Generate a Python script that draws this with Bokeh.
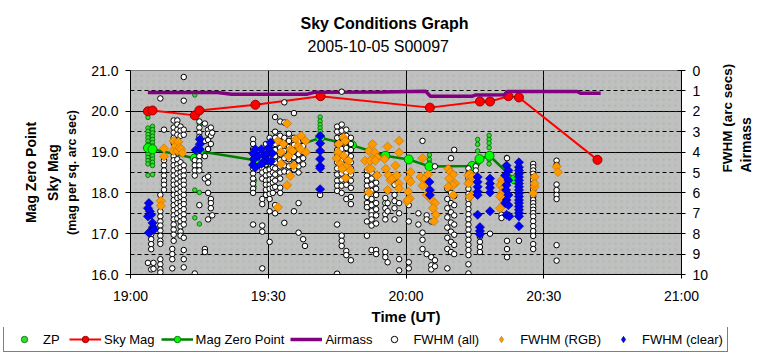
import math
from bokeh.plotting import figure
from bokeh.models import (Range1d, LinearAxis, FixedTicker, Grid, Legend, LegendItem,
                          PrintfTickFormatter, BoxAnnotation, Title)
from bokeh.embed import file_html
from bokeh.resources import INLINE

# ---------------- data (time in minutes after 19:00 UT) ----------------
time_ticks = [0, 30, 60, 90, 120]
time_labels = ["19:00", "19:30", "20:00", "20:30", "21:00"]

sky_mag_t = [3.8, 4.8, 14.0, 15.0, 27.2, 41.4, 65.2, 76.1, 78.3, 82.3, 84.6, 101.7]
sky_mag_v = [20.00, 20.02, 19.90, 20.02, 20.16, 20.37, 20.09, 20.24, 20.24, 20.37, 20.34, 18.81]

magzp_t = [3.8, 4.8, 14.0, 15.0, 27.2, 41.3, 48.2, 55.5, 60.6, 65.1, 74.4, 76.0, 78.2, 83.6]
magzp_v = [19.10, 19.07, 18.85, 19.02, 18.80, 19.35, 19.17, 18.91, 18.82, 18.65, 18.66, 18.83, 18.91, 18.33]

airmass_t = [3.8, 19.0, 22.0, 38.5, 40.0, 55.0, 64.3, 65.3, 74.5, 75.2, 81.4, 82.0, 97.3, 98.0, 102.4]
airmass_v = [1.08, 1.08, 1.16, 1.16, 1.07, 1.05, 1.02, 1.26, 1.26, 1.20, 1.19, 1.03, 1.03, 1.12, 1.12]

zp_t = ([3.8] * 14 + [4.8] * 13 + [14.0, 15.0, 14.0, 14.0, 15.0, 14.0, 15.0]
        + [26.9, 29.6, 29.6, 29.3, 29.8, 27.0] + [41.3] * 6 + [65.1] * 4
        + [75.6] * 5 + [78.1] * 7 + [81.9, 81.9])
zp_v = ([19.85, 19.59, 19.51, 19.43, 19.35, 19.27, 19.19, 19.11, 19.03, 18.95, 18.87, 18.79, 18.71, 18.43]
        + [19.63, 19.55, 19.47, 19.39, 19.31, 19.23, 19.15, 18.99, 18.91, 18.83, 18.75, 18.67, 18.45]
        + [20.40, 19.69, 18.43, 18.07, 18.01, 17.39, 17.24]
        + [18.15, 18.67, 18.51, 18.39, 18.23, 18.30]
        + [19.86, 19.76, 19.67, 19.59, 19.51, 19.43]
        + [18.93, 18.82, 18.73, 18.63]
        + [19.31, 19.19, 19.03, 18.83, 18.71]
        + [19.41, 19.31, 19.22, 19.11, 18.91, 18.82, 18.71]
        + [18.87, 18.63])

fwhm_all_times = [3.8, 4.5, 5.0, 6.5, 7.3, 9.1, 9.4, 10.2, 10.9, 11.6, 14.0, 15.0, 16.2, 16.9, 17.5,
                  17.8, 26.7, 28.7, 29.5, 30.3, 31.0, 31.5, 32.6, 33.5, 34.5, 35.6, 36.6, 37.6, 38.0,
                  41.3, 45.0, 46.0, 47.0, 48.0, 51.5, 52.5, 53.5, 55.5, 56.0, 57.5, 58.5, 60.6, 62.7,
                  63.6, 64.5, 65.5, 66.3, 69.0, 69.8, 70.5, 73.6, 75.2, 76.1, 78.3, 80.8, 82.0, 84.6,
                  87.7, 92.8]
fwhm_all_values = [
    [9.43],
    [8.03, 8.27, 8.51, 8.76, 9.75],
    [9.43, 9.72],
    [1.37, 6.1, 6.9, 7.15, 7.4, 7.6, 7.85, 8.1, 8.35, 8.5, 9.25, 9.5, 9.75, 9.9],
    [2.9, 4.4, 4.65, 4.9, 5.15, 5.4, 5.6, 5.85],
    [8.75, 9.0, 9.25, 9.7],
    [2.45, 2.8, 3.05, 3.3, 3.55, 4.2, 4.4, 4.65, 4.9, 5.15, 5.4, 5.6, 5.85, 6.1, 6.35, 6.6, 6.85, 7.1, 7.3, 7.55, 7.8, 8.05, 8.35],
    [2.45, 2.65, 2.9, 3.15, 4.35, 4.6, 4.8, 5.05, 5.3, 5.55, 5.8, 6.05, 6.25, 6.5, 6.75, 7.0, 7.25],
    [2.75, 2.95, 3.2, 4.5, 4.75, 5.0, 5.2, 5.45, 5.7, 5.95, 6.2, 6.45, 6.65, 6.9, 7.15, 7.4, 7.65, 7.9, 8.1],
    [0.32, 1.48, 2.9, 3.15, 4.65, 4.9, 5.15, 5.4, 5.6, 5.85, 6.1, 6.35, 6.55, 6.8, 7.05, 7.3, 7.55, 8.2, 8.8, 9.25, 9.65],
    [4.4, 4.65, 4.9, 5.15, 9.95],
    [2.5, 2.8, 3.05, 3.25, 4.2, 4.45, 4.65, 4.9, 6.6],
    [2.6, 3.45, 4.2, 5.3, 8.75, 8.9],
    [2.9, 3.1, 3.4, 3.85, 5.2, 5.5, 6.0, 7.3],
    [2.8, 3.2, 3.6, 6.3, 6.5, 6.75],
    [3.05, 7.1],
    [3.37, 3.6, 3.85, 4.1, 4.35, 4.6, 4.8, 5.05, 5.3, 5.55, 5.8, 6.0, 7.55],
    [4.3, 4.55, 4.8, 5.0, 5.3, 6.3, 6.55, 7.6, 7.9, 9.7],
    [3.6, 4.6, 4.9, 5.15, 5.4, 5.6, 5.85, 6.1],
    [3.3, 4.85, 5.1, 5.35, 5.6, 5.8, 6.05, 6.3, 6.9, 8.4],
    [3.9, 4.2, 4.75, 5.0, 5.3, 5.5, 5.75, 6.0],
    [2.28, 3.0, 3.3, 3.6, 3.9, 4.2, 4.5, 4.8, 5.1, 5.4, 5.7, 6.6, 7.0],
    [2.5, 3.2, 3.5, 3.8, 4.1, 4.4, 4.7, 5.0, 5.3, 5.75, 6.0],
    [1.56, 2.55, 3.3, 3.6, 3.95, 4.3, 4.65, 4.95, 7.47],
    [3.1, 3.45, 3.75, 4.05, 4.35, 4.7, 5.0],
    [2.09, 3.3, 3.65, 3.95, 4.25, 4.55, 4.85, 6.9],
    [3.5, 3.8, 4.1, 4.4, 4.7, 5.0, 6.5, 7.95],
    [3.4, 3.7, 4.0, 4.3, 4.6, 8.27],
    [8.6],
    [6.1],
    [2.75, 3.0, 3.3, 3.6, 3.9, 4.2, 4.5, 4.8, 5.1, 5.4, 5.65, 5.9, 7.55, 9.96],
    [1.04, 2.65, 2.95, 3.25, 3.55, 3.85, 4.15, 4.45, 4.75, 5.05, 5.35, 5.65, 6.0, 8.1, 8.35, 8.6],
    [2.9, 3.2, 3.5, 3.8, 4.1, 4.4, 4.7, 5.0, 5.3, 5.6, 6.3, 8.85, 9.05],
    [3.3, 3.6, 3.9, 4.2, 4.5, 4.8, 5.1, 5.4, 5.75, 6.2, 6.55, 9.3],
    [4.9, 5.15, 5.4, 5.65, 5.9, 6.2, 6.5, 6.7, 7.4, 8.1],
    [5.0, 5.3, 5.6, 5.9, 6.3, 6.6, 6.9, 7.1, 7.3, 7.6, 8.8],
    [5.5, 5.8, 6.1, 6.5, 6.8, 7.1, 7.5, 8.8, 9.0],
    [6.25, 6.5, 6.75, 7.05, 7.3, 8.9, 9.15],
    [5.9, 6.5, 6.9, 9.4],
    [5.3, 5.6, 6.1, 6.4, 6.75, 7.3],
    [6.5, 7.0, 8.3, 9.25, 9.8],
    [6.6, 7.4, 9.4, 9.7],
    [7.0, 7.55],
    [3.45, 7.95, 8.3, 8.75],
    [7.1, 7.3, 9.0],
    [7.4, 9.15, 9.55, 9.75],
    [4.7, 9.3, 9.6],
    [5.8, 6.3, 6.75, 7.2, 7.7, 8.2, 8.75, 9.7],
    [4.3, 6.0, 6.5, 6.95, 7.45, 7.9, 8.4, 8.9],
    [3.89, 6.15, 6.6, 7.1, 7.55, 8.05, 8.55, 9.0],
    [4.8, 5.05, 5.3, 5.55, 5.8, 6.05, 6.3, 6.55, 6.8, 7.05, 7.3, 7.55, 7.8, 8.05, 8.3, 8.55, 8.8, 9.05, 9.5, 9.95],
    [4.7, 4.9],
    [8.15, 8.4, 8.65, 8.9],
    [8.0],
    [5.46, 7.07, 7.23],
    [4.3, 8.35, 8.75, 9.15],
    [8.35],
    [4.58, 4.74, 4.9, 5.06, 5.22, 5.38, 5.54, 5.7, 5.86, 6.02, 6.18, 6.35, 6.5, 6.67, 6.83, 6.99, 7.15, 7.39, 7.63, 7.87, 8.11, 8.51, 8.75],
    [4.42, 4.63, 5.59, 5.86, 6.1, 6.3, 8.56, 9.32],
]

rgb_t = ([6.6, 6.6, 7.3, 7.3]
         + [9.3, 9.4, 9.8, 10.2, 10.4, 10.7, 11.0, 11.3]
         + [34.1, 32.1, 33.3, 32.8, 34.8, 35.3, 36.0, 37.2, 38.1, 38.2, 36.5, 34.4, 35.5, 32.8, 34.8, 34.1, 32.1, 37.0]
         + [46.4, 45.3, 46.8, 45.2, 46.4, 45.7, 47.1, 46.1, 47.9, 47.5, 46.9, 44.9]
         + [52.7, 51.9, 53.2, 53.7, 52.6, 51.1, 52.2, 53.3, 51.9, 53.7, 52.4, 51.9]
         + [56.0, 55.3, 55.6, 56.2, 56.6, 57.0, 58.0, 58.4, 57.7, 58.5, 58.5, 56.0, 58.5, 60.2]
         + [61.0, 60.5, 61.0, 60.5, 60.8, 60.4]
         + [63.6, 63.2, 64.1, 64.6, 63.6, 64.5, 65.2, 65.6, 66.3, 65.9, 66.5, 66.1, 64.8]
         + [69.2, 69.7, 70.3, 69.4, 70.7, 70.2, 69.2, 70.3]
         + [73.9, 73.6, 74.3, 73.9, 73.6, 74.3, 73.9]
         + [80.8, 80.5, 81.2, 80.8, 80.5, 81.2, 80.5]
         + [88.0, 88.0, 87.7, 88.0]
         + [92.8, 93.1])
rgb_v = ([6.39, 6.63, 3.82, 4.21]
         + [3.94, 3.45, 3.70, 3.94, 3.50, 3.78, 3.86, 4.05]
         + [2.60, 3.45, 3.60, 4.00, 3.86, 3.94, 3.37, 3.20, 3.45, 4.00, 3.70, 4.20, 4.66, 4.58, 5.17, 5.62, 6.70, 3.86]
         + [3.29, 3.61, 3.45, 4.00, 4.18, 4.58, 4.66, 4.82, 4.90, 4.42, 5.27, 4.30]
         + [3.61, 3.94, 4.02, 4.26, 4.34, 4.42, 4.42, 4.42, 4.82, 5.14, 4.82, 5.98]
         + [3.73, 4.34, 4.82, 5.14, 5.38, 5.30, 5.14, 5.54, 4.66, 4.02, 3.45, 5.86, 5.78, 6.42]
         + [4.98, 5.30, 5.46, 5.94, 6.27, 6.35]
         + [4.30, 5.22, 5.30, 5.54, 5.65, 6.10, 5.94, 6.35, 6.50, 6.75, 7.07, 7.39, 5.10]
         + [4.82, 4.98, 5.10, 5.30, 5.54, 5.62, 5.70, 6.10]
         + [5.06, 5.14, 5.22, 5.46, 5.54, 6.10, 6.18]
         + [5.38, 5.62, 5.78, 6.02, 6.18, 6.35, 6.75]
         + [5.22, 5.70, 6.02, 5.54]
         + [4.71, 4.98])

clear_t = ([4.0, 3.8, 4.2, 3.8, 4.5, 4.8, 4.9, 4.5, 4.0, 5.1]
           + [15.1, 15.1, 14.2, 15.1]
           + [26.7, 27.2, 26.9, 26.7, 27.2, 28.5, 29.0, 29.8, 30.1, 30.5, 30.9, 29.8, 29.0, 30.6, 28.5, 27.8]
           + [41.3] * 7
           + [65.1, 65.2, 65.2]
           + [75.6] * 6 + [76.1] * 3 + [78.3] * 5
           + [81.9, 82.3, 81.6, 82.3, 81.9, 81.8, 82.3, 81.9, 81.6, 82.3, 81.9, 82.5]
           + [84.6] * 18)
clear_v = ([6.50, 6.75, 6.90, 7.15, 7.07, 7.47, 7.68, 7.87, 7.95, 7.80]
           + [3.37, 3.61, 3.90, 3.86]
           + [4.06, 3.86, 4.34, 4.63, 4.75, 3.86, 4.18, 4.06, 3.78, 3.53, 4.06, 4.42, 4.50, 4.45, 4.58, 4.20]
           + [3.21, 3.57, 3.94, 4.34, 4.69, 4.79, 5.82]
           + [5.46, 5.86, 6.10]
           + [5.22, 5.46, 5.70, 5.94, 6.10, 7.07, 7.68, 7.87, 8.03]
           + [5.30, 5.54, 5.75, 5.98, 6.90]
           + [4.66, 4.90, 5.14, 5.38, 5.62, 5.86, 6.10, 6.35, 6.50, 6.60, 7.07, 7.15]
           + [4.50, 4.74, 4.90, 5.06, 5.22, 5.38, 5.54, 5.70, 5.86, 6.02, 6.18, 6.35, 6.50, 6.67, 6.83, 6.99, 7.15, 7.63])

legend_labels = ["ZP", "Sky Mag", "Mag Zero Point", "Airmass", "FWHM (all)", "FWHM (RGB)", "FWHM (clear)"]

# flatten FWHM (all) columns
fa_t, fa_v = [], []
for t, vals in zip(fwhm_all_times, fwhm_all_values):
    for v in vals:
        fa_t.append(t)
        fa_v.append(v)

FONT = "Liberation Sans"

# ---------------- styles ----------------
ZP_STYLE = dict(marker="circle", size=4.5, fill_color="#33dd33", line_color="#006400", line_width=0.8)
SKY_LINE = dict(line_color="#ff0000", line_width=2)
SKY_MARK = dict(marker="circle", size=9, fill_color="#ff0000", line_color="#990000", line_width=1)
MZP_LINE = dict(line_color="#008000", line_width=2.5)
MZP_MARK = dict(marker="circle", size=9, fill_color="#00ff00", line_color="#008000", line_width=1)
AIR_LINE = dict(line_color="#800080", line_width=3.5)
ALL_STYLE = dict(marker="circle", size=5.5, fill_color="white", line_color="black", line_width=1)
RGB_FILL = dict(fill_color="#ff9900", line_color="#b86e00", line_width=0.6)
CLR_FILL = dict(fill_color="#0000ff", line_color="#000080", line_width=0.6)
DIAMOND_PLOT = dict(marker="square", angle=math.pi / 4, size=6.5)
DIAMOND_LEGEND = dict(marker="diamond", size=10)

p = figure(width=764, height=327, output_backend="svg", toolbar_location=None,
           x_range=Range1d(0, 120), y_range=Range1d(16, 21),
           min_border_left=130, min_border_right=83, min_border_top=70, min_border_bottom=49,
           background_fill_color="#c0c0c0", border_fill_color="white",
           title="Sky Conditions Graph")
p.extra_y_ranges = {"fw": Range1d(10, 0)}
p.outline_line_color = "#808080"

# dotted texture of the plot area
p.add_layout(BoxAnnotation(left=0, right=120, bottom=16, top=21, fill_alpha=0, line_alpha=0,
                           hatch_pattern="dot", hatch_color="#6a9a6a", hatch_alpha=0.15,
                           hatch_scale=6, level="underlay"))

# grids
p.xgrid.ticker = FixedTicker(ticks=[30, 60, 90])
p.xgrid.grid_line_color = "black"
p.ygrid.ticker = FixedTicker(ticks=[17, 18, 19, 20])
p.ygrid.grid_line_color = "black"
p.add_layout(Grid(dimension=1, y_range_name="fw", ticker=FixedTicker(ticks=[1, 3, 5, 7, 9]),
                  grid_line_color="black", grid_line_dash="4 3", grid_line_width=1))

def style_label(ax, text, size, standoff):
    ax.axis_label = text
    ax.axis_label_text_font = FONT
    ax.axis_label_text_font_size = size
    ax.axis_label_text_font_style = "bold"
    ax.axis_label_text_color = "black"
    ax.axis_label_standoff = standoff

def bare_axis(**kw):
    return LinearAxis(ticker=FixedTicker(ticks=[]), axis_line_color=None, major_tick_line_color=None,
                      minor_tick_line_color=None, major_tick_in=0, major_tick_out=0,
                      major_label_standoff=0, **kw)

# x axis
xa = p.xaxis[0]
xa.ticker = FixedTicker(ticks=time_ticks)
xa.major_label_overrides = {t: l for t, l in zip(time_ticks, time_labels)}
xa.minor_tick_line_color = None
xa.major_tick_in = 4
xa.major_tick_out = 4
xa.major_label_standoff = 9
style_label(xa, "Time (UT)", "15px", 1)

# left axes
ya = p.yaxis[0]
ya.ticker = FixedTicker(ticks=[16, 17, 18, 19, 20, 21])
ya.formatter = PrintfTickFormatter(format="%.1f")
ya.minor_tick_line_color = None
ya.major_tick_in = 0
ya.major_tick_out = 5
ya.major_label_standoff = 7
style_label(ya, "(mag per sq. arc sec)", "12.5px", 9)

la1 = bare_axis()
style_label(la1, "Sky Mag", "14px", 2)
p.add_layout(la1, "left")
la2 = bare_axis()
style_label(la2, "Mag Zero Point", "14px", 3)
p.add_layout(la2, "left")

# right axes
ra = LinearAxis(y_range_name="fw", ticker=FixedTicker(ticks=list(range(0, 11))))
ra.minor_tick_line_color = None
ra.major_tick_in = 4
ra.major_tick_out = 4
ra.major_label_standoff = 7
style_label(ra, "FWHM (arc secs)", "13.5px", 16)
p.add_layout(ra, "right")
ra2 = bare_axis(y_range_name="fw")
style_label(ra2, "Airmass", "14px", 0)
p.add_layout(ra2, "right")
for ax in (ra, ra2):
    try:
        ax.axis_label_orientation = math.pi / 2
    except Exception:
        pass

for ax in (xa, ya, ra):
    ax.major_label_text_font = FONT
    ax.major_label_text_font_size = "14px"
    ax.major_label_text_color = "black"
    ax.axis_line_color = "black"
    ax.major_tick_line_color = "black"

# titles: a blank spacer panel sits next to the frame, then the subtitle, then the main title
spacer = bare_axis()
spacer.axis_label = " "
spacer.axis_label_text_font_size = "8px"
spacer.axis_label_standoff = 1
p.add_layout(spacer, "above")
sub_title = Title(text="2005-10-05 S00097", align="left", offset=177, text_font=FONT,
                  text_font_size="16px", text_font_style="normal", text_color="black", standoff=6)
p.add_layout(sub_title, "above")
p.title.align = "left"
p.title.offset = 170
p.title.text_font = FONT
p.title.text_font_size = "16px"
p.title.text_font_style = "bold"
p.title.text_color = "black"
p.title.standoff = 2

# series
p.scatter(zp_t, zp_v, **ZP_STYLE)
p.line(sky_mag_t, sky_mag_v, **SKY_LINE)
p.scatter(sky_mag_t, sky_mag_v, **SKY_MARK)
p.line(magzp_t, magzp_v, **MZP_LINE)
p.scatter(magzp_t, magzp_v, **MZP_MARK)
p.line(airmass_t, airmass_v, y_range_name="fw", **AIR_LINE)
p.scatter(fa_t, fa_v, y_range_name="fw", **ALL_STYLE)
p.scatter(rgb_t, rgb_v, y_range_name="fw", **DIAMOND_PLOT, **RGB_FILL)
p.scatter(clear_t, clear_v, y_range_name="fw", **DIAMOND_PLOT, **CLR_FILL)

# ---------------- legend strip (separate root so its frame spans the full width) ----------------
# its ranges exclude all data, so the proxy glyphs themselves stay out of view
lg = figure(width=764, height=32, output_backend="svg", toolbar_location=None,
            x_range=Range1d(-1000, -999), y_range=Range1d(-1000, -999), min_border=0,
            x_axis_location=None, y_axis_location=None, outline_line_color=None,
            background_fill_color="white", border_fill_color="white")
lg.grid.visible = False
g_zp = lg.scatter(zp_t[:1], zp_v[:1], **ZP_STYLE)
g_sky_l = lg.line(sky_mag_t[:2], sky_mag_v[:2], **SKY_LINE)
g_sky_m = lg.scatter(sky_mag_t[:1], sky_mag_v[:1], **SKY_MARK)
g_mzp_l = lg.line(magzp_t[:2], magzp_v[:2], **MZP_LINE)
g_mzp_m = lg.scatter(magzp_t[:1], magzp_v[:1], **MZP_MARK)
g_air = lg.line(airmass_t[:2], airmass_v[:2], **AIR_LINE)
g_all = lg.scatter(fa_t[:1], fa_v[:1], **ALL_STYLE)
g_rgb = lg.scatter(rgb_t[:1], rgb_v[:1], **DIAMOND_LEGEND, **RGB_FILL)
g_clr = lg.scatter(clear_t[:1], clear_v[:1], **DIAMOND_LEGEND, **CLR_FILL)

groups = [[g_zp], [g_sky_l, g_sky_m], [g_mzp_l, g_mzp_m], [g_air], [g_all], [g_rgb], [g_clr]]
legend = Legend(items=[LegendItem(label=l, renderers=r) for l, r in zip(legend_labels, groups)],
                orientation="horizontal", location=(3, 7), padding=4, spacing=6,
                glyph_width=32, glyph_height=16, label_standoff=3, label_height=16,
                label_text_font=FONT, label_text_font_size="13px", label_text_color="#000000",
                border_line_color="black", border_line_width=1, background_fill_color="white",
                background_fill_alpha=1, margin=0)
lg.add_layout(legend, "center")

open("out.html", "w").write(file_html([p, lg], INLINE))
